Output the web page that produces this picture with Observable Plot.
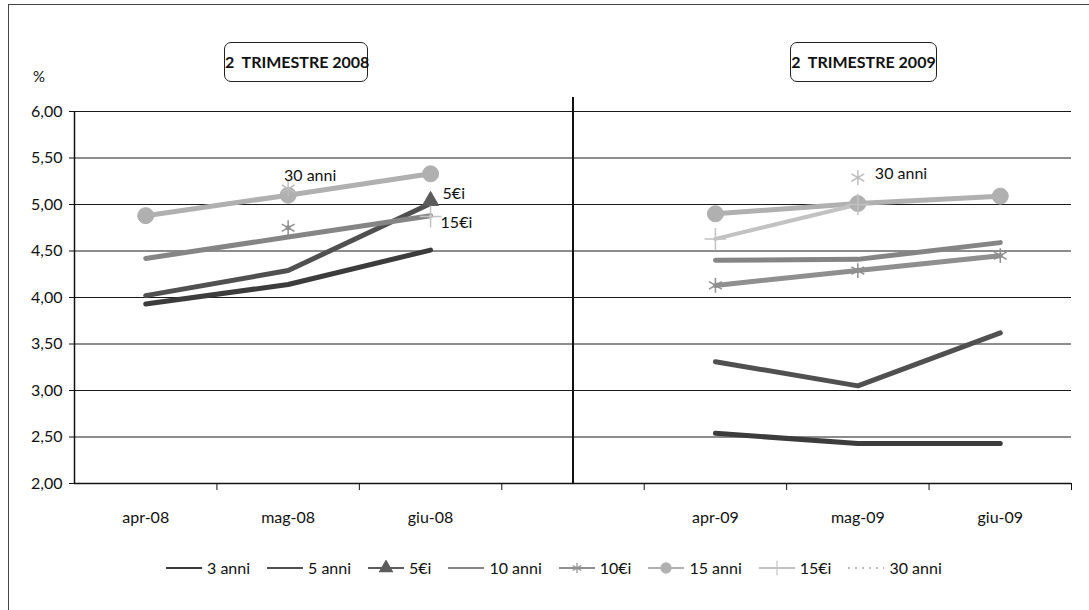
<!DOCTYPE html>
<html>
<head>
<meta charset="utf-8">
<script src="https://cdn.jsdelivr.net/npm/d3@7"></script>
<script src="https://cdn.jsdelivr.net/npm/@observablehq/plot@0.6"></script>
<style>
  html, body { margin: 0; padding: 0; background: #fff; }
  #wrap { position: relative; width: 1089px; height: 610px; font-family: Lato, "Open Sans", sans-serif; color: #111; overflow: hidden; }
  #frame { position: absolute; left: 8px; top: 4px; right: -2px; bottom: -2px; border-left: 1px solid #444; border-top: 1px solid #444; }
  .tbox { position: absolute; top: 42px; height: 38px; border: 1px solid #222; border-radius: 7px; font-weight: bold; font-size: 16px; line-height: 38px; text-align: center; white-space: pre; background: #fff; }
  #pct { position: absolute; left: 33px; top: 67px; font-size: 15px; }
  #legend { position: absolute; left: 165px; top: 558px; display: flex; align-items: center; font-size: 16px; white-space: nowrap; }
  .li { display: flex; align-items: center; margin-right: 16px; }
  .li svg { margin-right: 4px; }
  #chart { position: absolute; left: 0; top: 0; }
</style>
</head>
<body>
<div id="wrap">
  <div id="chart"></div>
  <div id="frame"></div>
  <div id="pct">%</div>
  <div id="legend"></div>
</div>
<script>
// ---- data ----
const months = ["apr-08", "mag-08", "giu-08", "", "apr-09", "mag-09", "giu-09"];
const seriesNames = ["3 anni", "5 anni", "5€i", "10 anni", "10€i", "15 anni", "15€i", "30 anni"];
const anni3  = [3.93, 4.14, 4.51, null, 2.54, 2.43, 2.43];
const anni5  = [4.02, 4.29, 5.01, null, 3.31, 3.05, 3.62];
const ei5    = [null, null, 5.04, null, null, null, null];
const anni10 = [4.42, 4.65, 4.88, null, 4.40, 4.41, 4.59];
const ei10   = [null, 4.75, null, null, 4.13, 4.29, 4.45];
const anni15 = [4.88, 5.10, 5.33, null, 4.90, 5.01, 5.09];
const ei15   = [null, null, 4.87, null, 4.63, 5.00, null];
const anni30 = [null, 5.17, null, null, null, 5.29, null];
const yTicks = [2.0, 2.5, 3.0, 3.5, 4.0, 4.5, 5.0, 5.5, 6.0];
const panelTitles = ["2  TRIMESTRE 2008", "2  TRIMESTRE 2009"];
const pointLabels = [
  {series: "30 anni", i: 1, text: "30 anni"},
  {series: "5€i", i: 2, text: "5€i"},
  {series: "15€i", i: 2, text: "15€i"},
  {series: "30 anni", i: 5, text: "30 anni"}
];

// ---- styling (not data) ----
const valuesBySeries = {"3 anni": anni3, "5 anni": anni5, "5€i": ei5, "10 anni": anni10, "10€i": ei10, "15 anni": anni15, "15€i": ei15, "30 anni": anni30};
const colors = {"3 anni": "#3c3c3c", "5 anni": "#505050", "5€i": "#5c5c5c", "10 anni": "#858585", "10€i": "#8f8f8f", "15 anni": "#b0b0b0", "15€i": "#c2c2c2", "30 anni": "#bdbdbd"};
const widths = {"3 anni": 5, "5 anni": 5, "5€i": 5, "10 anni": 5, "10€i": 5, "15 anni": 5, "15€i": 4, "30 anni": 3};
const markers = {"5€i": "triangle", "10€i": "asterisk", "15 anni": "circle", "15€i": "plus", "30 anni": "asterisk"};

const rows = [];
for (const s of seriesNames) valuesBySeries[s].forEach((v, i) => rows.push({series: s, i, value: v}));
const fmt = d => d.toFixed(2).replace(".", ",");
const findVal = (s, i) => valuesBySeries[s][i];
const boundaries = months.map((m, i) => i + 0.5);
const centers = months.map((m, i) => i).filter(i => months[i] !== "");

const marks = [
  Plot.gridY(yTicks, {stroke: "#1a1a1a", strokeOpacity: 1, strokeWidth: 1}),
  Plot.ruleX([-0.5], {y1: 2, y2: 6, stroke: "#111", strokeWidth: 1.5}),
  Plot.ruleY([2], {stroke: "#111", strokeWidth: 1.5}),
  Plot.ruleX([3], {y1: 2, y2: 6.15, stroke: "#111", strokeWidth: 2}),
  Plot.axisY({ticks: yTicks, tickFormat: fmt, tickSize: 5, tickPadding: 7, fontSize: 16, label: null}),
  Plot.axisX({ticks: boundaries, tickFormat: () => "", tickSize: 7, label: null}),
  Plot.axisX({ticks: centers, tickFormat: i => months[i], tickSize: 0, tickPadding: 28, fontSize: 16, label: null})
];
for (const s of seriesNames) {
  const data = rows.filter(r => r.series === s);
  marks.push(Plot.line(data, {x: "i", y: "value", stroke: colors[s], strokeWidth: widths[s], curve: "linear"}));
}
for (const s of seriesNames) {
  if (!markers[s]) continue;
  const data = rows.filter(r => r.series === s && r.value != null);
  const sym = markers[s];
  const filled = sym === "circle" || sym === "triangle";
  marks.push(Plot.dot(data, {
    x: "i", y: "value", symbol: () => sym,
    r: sym === "circle" ? 8 : (sym === "triangle" ? 6 : 7),
    fill: filled ? colors[s] : "none",
    stroke: colors[s], strokeWidth: filled ? 1 : 1.5
  }));
}
const labelOffsets = [
  {dx: 22, dy: -13, textAnchor: "middle"},
  {dx: 12, dy: -7, textAnchor: "start"},
  {dx: 10, dy: 6, textAnchor: "start"},
  {dx: 17, dy: -4, textAnchor: "start"}
];
pointLabels.forEach((l, k) => {
  marks.push(Plot.text([l], {x: "i", y: d => findVal(d.series, d.i), text: "text", fontSize: 16, fill: "#111", ...labelOffsets[k]}));
});

const chart = Plot.plot({
  width: 1089,
  height: 530,
  marginLeft: 74,
  marginRight: 18,
  marginTop: 111,
  marginBottom: 47,
  style: {fontFamily: "Lato, 'Open Sans', sans-serif", color: "#111", background: "transparent"},
  x: {domain: [-0.5, 6.5], axis: null},
  y: {domain: [2, 6], axis: null},
  marks
});
document.getElementById("chart").appendChild(chart);

// title boxes
const wrap = document.getElementById("wrap");
[[224, 142], [790, 145]].forEach(([left, w], k) => {
  const b = document.createElement("div");
  b.className = "tbox";
  b.style.left = left + "px";
  b.style.width = w + "px";
  b.textContent = panelTitles[k];
  wrap.appendChild(b);
});

// legend
const legend = document.getElementById("legend");
for (const s of seriesNames) {
  const item = document.createElement("div");
  item.className = "li";
  const svg = d3.create("svg").attr("width", 38).attr("height", 16);
  svg.append("line").attr("x1", 1).attr("x2", 37).attr("y1", 8).attr("y2", 8)
    .attr("stroke", colors[s]).attr("stroke-width", 2)
    .attr("stroke-dasharray", s === "30 anni" ? "2,5" : null);
  const sym = markers[s];
  if (sym && s !== "30 anni") {
    const type = {triangle: d3.symbolTriangle, asterisk: d3.symbolAsterisk, circle: d3.symbolCircle, plus: d3.symbolPlus}[sym];
    const filled = sym === "circle" || sym === "triangle";
    svg.append("path").attr("transform", "translate(19,8)")
      .attr("d", d3.symbol(type, sym === "circle" ? 80 : 70)())
      .attr("fill", filled ? colors[s] : "none").attr("stroke", colors[s]).attr("stroke-width", 1.2);
  }
  item.appendChild(svg.node());
  const t = document.createElement("span");
  t.textContent = s;
  item.appendChild(t);
  legend.appendChild(item);
}
</script>
</body>
</html>
